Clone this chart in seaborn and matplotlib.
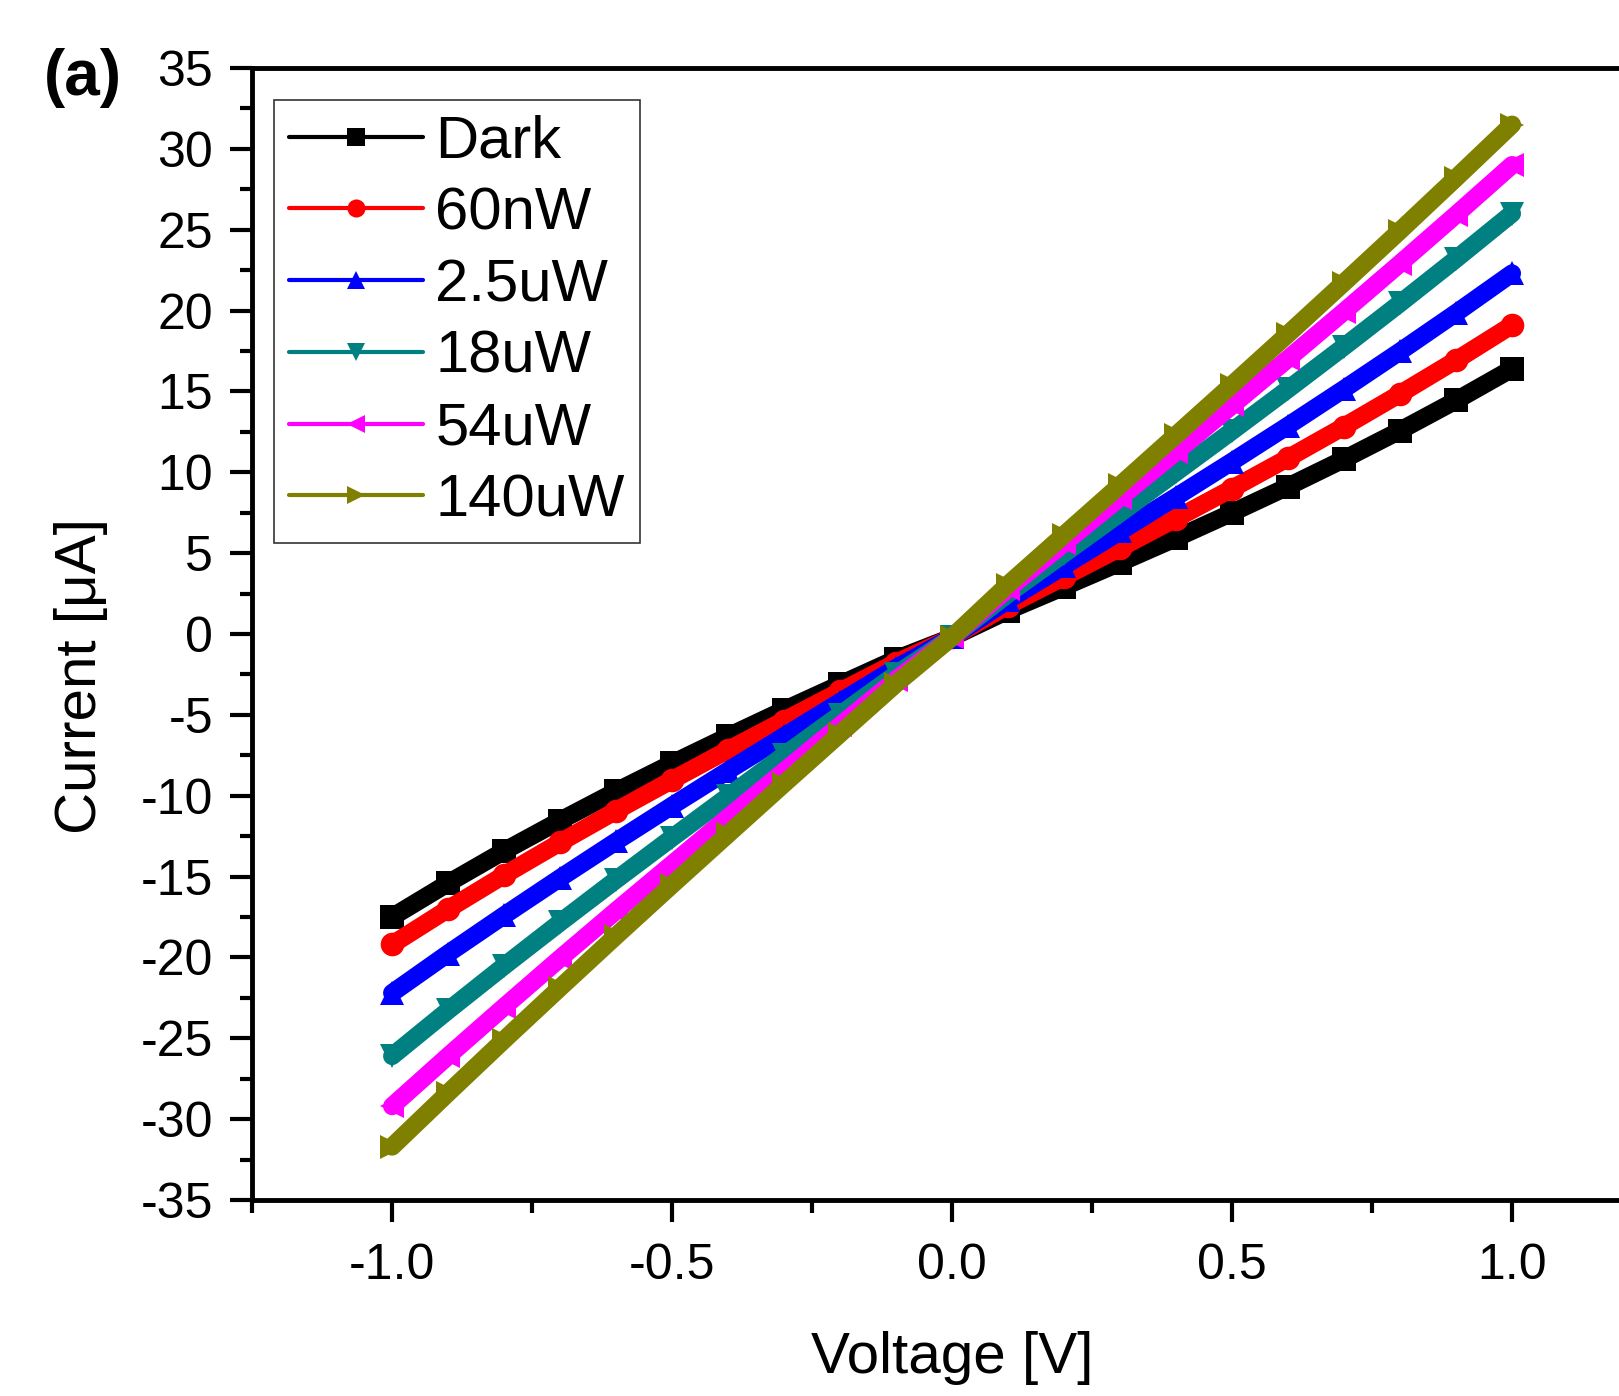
import numpy as np
import pandas as pd
import seaborn as sns
import matplotlib
matplotlib.use('Agg')
import matplotlib.pyplot as plt
from matplotlib.lines import Line2D
from matplotlib.ticker import MultipleLocator

# voltage sweep (V) and current (uA)
voltage = [-1.0, -0.9, -0.8, -0.7, -0.6, -0.5, -0.4, -0.3, -0.2, -0.1, 0.0,
           0.1, 0.2, 0.3, 0.4, 0.5, 0.6, 0.7, 0.8, 0.9, 1.0]

dark = [-17.5, -15.41, -13.42, -11.54, -9.73, -8.0, -6.33, -4.70, -3.12, -1.55, -0.2,
        1.45, 2.92, 4.41, 5.93, 7.5, 9.12, 10.81, 12.58, 14.44, 16.4]
nw60 = [-19.2, -17.01, -14.91, -12.89, -10.93, -9.03, -7.17, -5.35, -3.55, -1.77, -0.2,
        1.76, 3.53, 5.32, 7.14, 8.99, 10.88, 12.83, 14.85, 16.93, 19.1]
uw2_5 = [-22.2, -19.76, -17.40, -15.09, -12.83, -10.62, -8.45, -6.32, -4.20, -2.10, -0.2,
         2.10, 4.21, 6.34, 8.48, 10.66, 12.88, 15.15, 17.47, 19.85, 22.3]
uw18 = [-26.1, -23.28, -20.53, -17.84, -15.20, -12.60, -10.04, -7.50, -4.99, -2.49, -0.2,
        2.48, 4.97, 7.47, 10.00, 12.55, 15.14, 17.77, 20.45, 23.19, 26.0]
uw54 = [-29.2, -26.10, -23.06, -20.06, -17.12, -14.23, -11.34, -8.49, -5.65, -2.82, -0.2,
        2.80, 5.61, 8.43, 11.26, 14.13, 17.02, 19.94, 22.91, 25.93, 29.0]
uw140 = [-31.7, -28.38, -25.10, -21.87, -18.67, -15.51, -12.38, -9.26, -6.17, -3.08, -0.2,
         3.06, 6.13, 9.20, 12.30, 15.41, 18.55, 21.73, 24.94, 28.20, 31.5]

labels = ["Dark", "60nW", "2.5uW", "18uW", "54uW", "140uW"]
series = [dark, nw60, uw2_5, uw18, uw54, uw140]
colors = ["#000000", "#FF0000", "#0000FF", "#008080", "#FF00FF", "#808000"]
markers = ["s", "o", "^", "v", "<", ">"]

df = pd.concat([pd.DataFrame({"V": voltage, "I": s, "label": lab})
                for lab, s in zip(labels, series)], ignore_index=True)

sns.set_style("ticks")
plt.rcParams['font.family'] = ['Liberation Sans', 'DejaVu Sans']
plt.rcParams['axes.unicode_minus'] = False
plt.rcParams['text.color'] = 'black'
plt.rcParams['axes.labelcolor'] = 'black'
plt.rcParams['xtick.color'] = 'black'
plt.rcParams['ytick.color'] = 'black'

fig = plt.figure(figsize=(16.19, 13.96), dpi=100)
ax = fig.add_axes([0.1557, 0.1404, 0.8647, 0.8109])

sns.lineplot(data=df, x="V", y="I", hue="label", style="label",
             palette=dict(zip(labels, colors)),
             markers=dict(zip(labels, markers)), dashes=False,
             linewidth=13, markersize=17, markeredgewidth=0,
             legend=False, ax=ax, sort=False)

ax.set_xlim(-1.25, 1.25)
ax.set_ylim(-35, 35)
ax.xaxis.set_major_locator(MultipleLocator(0.5))
ax.xaxis.set_minor_locator(MultipleLocator(0.25))
ax.yaxis.set_major_locator(MultipleLocator(5))
ax.yaxis.set_minor_locator(MultipleLocator(2.5))
ax.xaxis.set_major_formatter(matplotlib.ticker.FormatStrFormatter('%.1f'))

for sp in ax.spines.values():
    sp.set_linewidth(3.5)
    sp.set_color("black")

ax.tick_params(which="major", direction="out", length=16, width=3,
               labelsize=36, colors="black")
ax.tick_params(which="minor", direction="out", length=9, width=3, colors="black")
ax.tick_params(axis="x", which="major", pad=15)
ax.tick_params(axis="y", which="major", pad=12)

ax.set_xlabel("Voltage [V]", fontsize=42, labelpad=30)
ax.set_ylabel("Current [μA]", fontsize=42)
ax.yaxis.set_label_coords(-0.103, 0.463)

handles = [Line2D([0], [0], color=c, marker=m, lw=3, markersize=13, markeredgewidth=0)
           for c, m in zip(colors, markers)]
leg = ax.legend(handles, labels, loc="upper left", bbox_to_anchor=(0.0157, 0.972),
                borderaxespad=0, fontsize=43, handlelength=2.25, handletextpad=0.2,
                labelspacing=0.28, borderpad=0.25, frameon=True, fancybox=False)
leg.get_frame().set_edgecolor("black")
leg.get_frame().set_linewidth(1.2)

fig.text(0.051, 0.944, "(a)", fontsize=46, fontweight="bold", ha="center", va="center")

fig.savefig("out.png", dpi=100)
